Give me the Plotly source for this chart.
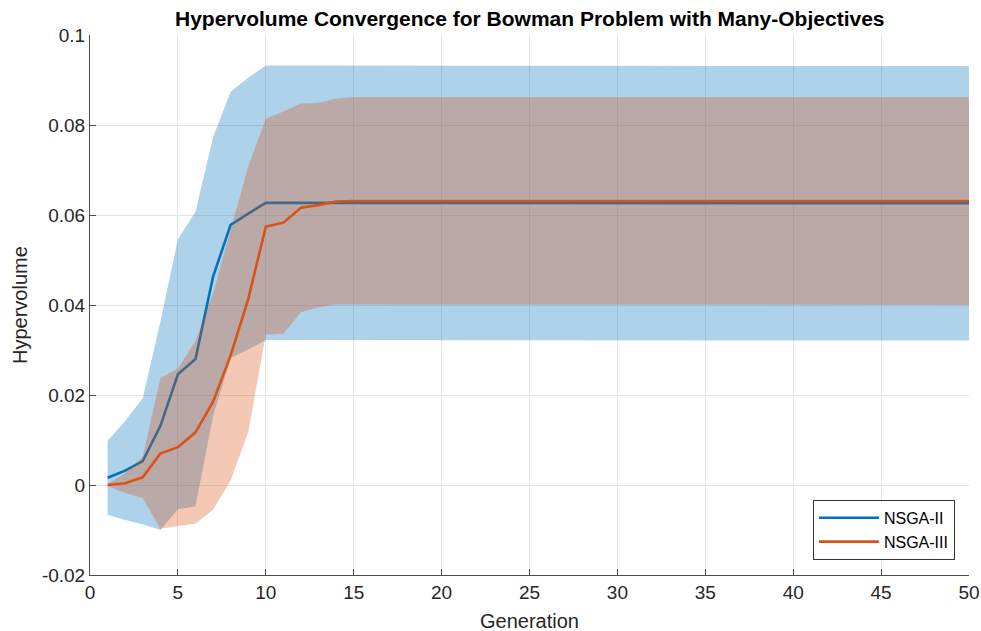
import plotly.graph_objects as go

# Generation index
generations = list(range(1, 51))

# NSGA-II mean hypervolume and standard deviation per generation
nsga2_mean = [
    0.0016, 0.0032, 0.0053, 0.0131, 0.0246, 0.0280, 0.0463, 0.0578, 0.0603, 0.0627,
    0.0627, 0.0627, 0.0627, 0.0627, 0.0627, 0.0627, 0.0627, 0.0627, 0.0627, 0.0627,
    0.0626, 0.0626, 0.0626, 0.0626, 0.0626, 0.0626, 0.0626, 0.0626, 0.0626, 0.0626,
    0.0626, 0.0626, 0.0626, 0.0626, 0.0626, 0.0626, 0.0626, 0.0626, 0.0626, 0.0626,
    0.0626, 0.0626, 0.0626, 0.0626, 0.0626, 0.0626, 0.0626, 0.0626, 0.0626, 0.0626,
]
nsga2_std = [
    0.0082, 0.0110, 0.0140, 0.0231, 0.0300, 0.0327, 0.0310, 0.0296, 0.0302, 0.0305,
    0.0305, 0.0305, 0.0305, 0.0305, 0.0305, 0.0305, 0.0305, 0.0305, 0.0305, 0.0305,
    0.0305, 0.0305, 0.0305, 0.0305, 0.0305, 0.0305, 0.0305, 0.0305, 0.0305, 0.0305,
    0.0305, 0.0305, 0.0305, 0.0305, 0.0305, 0.0305, 0.0305, 0.0305, 0.0305, 0.0305,
    0.0305, 0.0305, 0.0305, 0.0305, 0.0305, 0.0305, 0.0305, 0.0305, 0.0305, 0.0305,
]

# NSGA-III mean hypervolume and standard deviation per generation
nsga3_mean = [
    0.0000, 0.0004, 0.0017, 0.0070, 0.0084, 0.0117, 0.0185, 0.0288, 0.0413, 0.0574,
    0.0583, 0.0616, 0.0622, 0.0630, 0.0631, 0.0631, 0.0631, 0.0631, 0.0631, 0.0631,
    0.0631, 0.0631, 0.0631, 0.0631, 0.0631, 0.0631, 0.0631, 0.0631, 0.0631, 0.0631,
    0.0631, 0.0631, 0.0631, 0.0631, 0.0631, 0.0631, 0.0631, 0.0631, 0.0631, 0.0631,
    0.0631, 0.0631, 0.0631, 0.0631, 0.0631, 0.0631, 0.0631, 0.0631, 0.0631, 0.0631,
]
nsga3_std = [
    0.0002, 0.0022, 0.0046, 0.0167, 0.0175, 0.0203, 0.0240, 0.0278, 0.0295, 0.0240,
    0.0247, 0.0232, 0.0227, 0.0229, 0.0231, 0.0231, 0.0231, 0.0231, 0.0231, 0.0231,
    0.0231, 0.0231, 0.0231, 0.0231, 0.0231, 0.0231, 0.0231, 0.0231, 0.0231, 0.0231,
    0.0231, 0.0231, 0.0231, 0.0231, 0.0231, 0.0231, 0.0231, 0.0231, 0.0231, 0.0231,
    0.0231, 0.0231, 0.0231, 0.0231, 0.0231, 0.0231, 0.0231, 0.0231, 0.0231, 0.0231,
]

# Axis ticks
x_ticks = [0, 5, 10, 15, 20, 25, 30, 35, 40, 45, 50]
y_ticks = [-0.02, 0, 0.02, 0.04, 0.06, 0.08, 0.1]
y_tick_labels = ["-0.02", "0", "0.02", "0.04", "0.06", "0.08", "0.1"]

BLUE = "#0072BD"
ORANGE = "#D95319"
FONT = "Liberation Sans, Arial, Helvetica, sans-serif"


def band(mean, std, color, alpha):
    upper = [m + s for m, s in zip(mean, std)]
    lower = [m - s for m, s in zip(mean, std)]
    r, g, b = int(color[1:3], 16), int(color[3:5], 16), int(color[5:7], 16)
    return go.Scatter(
        x=generations + generations[::-1],
        y=upper + lower[::-1],
        fill="toself",
        fillcolor=f"rgba({r},{g},{b},{alpha})",
        line=dict(width=0),
        mode="lines",
        hoverinfo="skip",
        showlegend=False,
    )


fig = go.Figure()
fig.add_trace(band(nsga2_mean, nsga2_std, BLUE, 0.32))
fig.add_trace(go.Scatter(x=generations, y=nsga2_mean, mode="lines", name="NSGA-II",
                         line=dict(color=BLUE, width=2.6)))
fig.add_trace(band(nsga3_mean, nsga3_std, ORANGE, 0.32))
fig.add_trace(go.Scatter(x=generations, y=nsga3_mean, mode="lines", name="NSGA-III",
                         line=dict(color=ORANGE, width=2.6)))

axis_common = dict(
    showline=True, linecolor="#4d4d4d", linewidth=1,
    ticks="inside", ticklen=6, tickcolor="#4d4d4d", tickwidth=1,
    showgrid=True, gridcolor="#e4e4e4", gridwidth=1,
    zeroline=False, mirror=False, automargin=False,
    tickfont=dict(family=FONT, size=19, color="#262626"),
)

fig.update_xaxes(range=[0, 50], tickvals=x_ticks, **axis_common)
fig.update_yaxes(range=[-0.02, 0.1], tickvals=y_ticks, ticktext=y_tick_labels, **axis_common)

fig.update_layout(
    width=981, height=631,
    margin=dict(l=90, r=12, t=35, b=56),
    paper_bgcolor="white", plot_bgcolor="white",
    font=dict(family=FONT, color="#262626"),
    showlegend=True,
    legend=dict(
        x=0.984, xanchor="right", y=0.028, yanchor="bottom",
        bgcolor="white", bordercolor="#333333", borderwidth=1,
        font=dict(family=FONT, size=16, color="#000000"),
        itemwidth=60, tracegroupgap=0,
    ),
    annotations=[
        dict(text="<b>Hypervolume Convergence for Bowman Problem with Many-Objectives</b>",
             xref="paper", yref="paper", x=0.5, y=1, yshift=17, yanchor="middle",
             showarrow=False, font=dict(family=FONT, size=21, color="#000000")),
        dict(text="Generation", xref="paper", yref="paper", x=0.5, y=0, yshift=-46,
             yanchor="middle", showarrow=False,
             font=dict(family=FONT, size=20, color="#262626")),
        dict(text="Hypervolume", xref="paper", yref="paper", x=0, xshift=-70, y=0.5,
             xanchor="center", yanchor="middle", textangle=-90, showarrow=False,
             font=dict(family=FONT, size=20, color="#262626")),
    ],
)

fig.write_html("out.html")
